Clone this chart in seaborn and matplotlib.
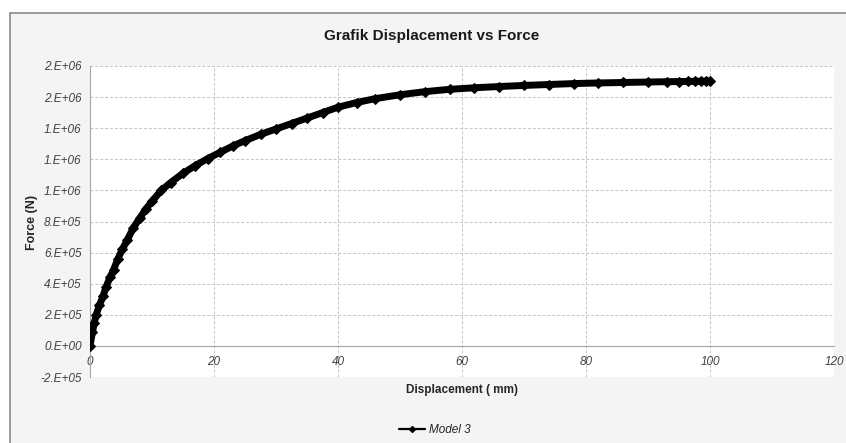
import numpy as np
import pandas as pd
import seaborn as sns
import matplotlib.pyplot as plt
from matplotlib.lines import Line2D
from matplotlib.patches import Rectangle

# data
displacement = [0, 0.4, 0.7, 1.0, 1.5, 2.1, 2.6, 3.2, 3.8, 4.5, 5.2, 6.0, 7.0, 8.0, 9.0,
                10.0, 11.5, 13, 15, 17, 19, 21, 23, 25, 27.5, 30, 32.5, 35, 37.5, 40,
                43, 46, 50, 54, 58, 62, 66, 70, 74, 78, 82, 86, 90, 93, 95, 96.5, 97.5,
                98.5, 99.3, 100]
force = [0, 90000, 150000, 200000, 260000, 320000, 380000, 440000, 490000, 560000,
         620000, 680000, 760000, 820000, 880000, 930000, 1000000, 1050000, 1110000,
         1160000, 1205000, 1245000, 1285000, 1320000, 1360000, 1395000, 1430000,
         1465000, 1500000, 1535000, 1565000, 1590000, 1615000, 1635000, 1650000,
         1660000, 1668000, 1675000, 1681000, 1687000, 1691000, 1694000, 1697000,
         1699000, 1700000, 1701000, 1701500, 1702000, 1702500, 1703000]
series_name = "Model 3"

x_ticks = [0, 20, 40, 60, 80, 100, 120]
y_ticks = [-200000, 0, 200000, 400000, 600000, 800000, 1000000, 1200000, 1400000,
           1600000, 1800000]
y_tick_labels = ["-2.E+05", "0.E+00", "2.E+05", "4.E+05", "6.E+05", "8.E+05",
                 "1.E+06", "1.E+06", "1.E+06", "2.E+06", "2.E+06"]

df = pd.DataFrame({"Displacement": displacement, "Force": force})

sns.set_style("white")
plt.rcParams['font.family'] = ['Liberation Sans', 'DejaVu Sans']

W, H = 846, 443
fig = plt.figure(figsize=(W / 100, H / 100), dpi=100, facecolor='white')

# chart frame (light grey area with thin border)
fig.patches.append(Rectangle((10 / W, -0.1), 1.2, 1 - 13 / H + 0.1,
                             transform=fig.transFigure, facecolor='#f4f4f4',
                             edgecolor='#8a8a8a', linewidth=1.2, zorder=-5))

ax = fig.add_axes([90 / W, 1 - 377 / H, 744 / W, 311 / H])
ax.set_facecolor('white')

sns.lineplot(data=df, x="Displacement", y="Force", ax=ax, color='black',
             linewidth=5, marker='D', markersize=5, markeredgecolor='black',
             solid_capstyle='round', legend=False, zorder=3)

# x axis crosses at y = 0 (set before tick labels, it resets the ticks)
for s in ['top', 'right']:
    ax.spines[s].set_visible(False)
ax.spines['bottom'].set_position(('data', 0))
ax.spines['bottom'].set_color('#a6a6a6')
ax.spines['left'].set_color('#a6a6a6')

ax.set_xlim(0, 120)
ax.set_ylim(-200000, 1800000)
ax.set_xticks(x_ticks)
ax.set_xticklabels([str(t) for t in x_ticks], fontstyle='italic', fontsize=8.5, color='#404040')
ax.set_yticks(y_ticks)
ax.set_yticklabels(y_tick_labels, fontstyle='italic', fontsize=8.5, color='#404040')

ax.grid(True, color='#c4c4c4', linestyle=(0, (3, 2)), linewidth=0.7)
ax.set_axisbelow(True)
ax.tick_params(axis='both', length=2.5, width=0.8, color='#a6a6a6', direction='out')
ax.tick_params(axis='y', pad=3.5)
ax.tick_params(axis='x', pad=4.5)

fig.text(432 / W, 1 - 36 / H, "Grafik Displacement vs Force",
         fontweight='bold', fontsize=11, color='#1a1a1a', ha='center', va='center')

ax.set_ylabel("Force (N)", fontweight='bold', fontsize=9, color='#262626')
ax.yaxis.set_label_coords((32 - 90) / 744, (377 - 222) / 311)
ax.yaxis.label.set_va('center')

ax.set_xlabel("Displacement ( mm)", fontweight='bold', fontsize=8.5, color='#262626')
ax.xaxis.set_label_coords((462 - 90) / 744, (377 - 390) / 311)
ax.xaxis.label.set_va('center')

handle = Line2D([], [], color='black', linewidth=1.6, marker='D', markersize=3)
fig.legend([handle], [series_name], loc='center', bbox_to_anchor=(435 / W, 1 - 430 / H),
           frameon=False, handlelength=2.2, handletextpad=0.3,
           prop={'style': 'italic', 'size': 8.5})

fig.savefig("out.png", dpi=100, facecolor=fig.get_facecolor())
